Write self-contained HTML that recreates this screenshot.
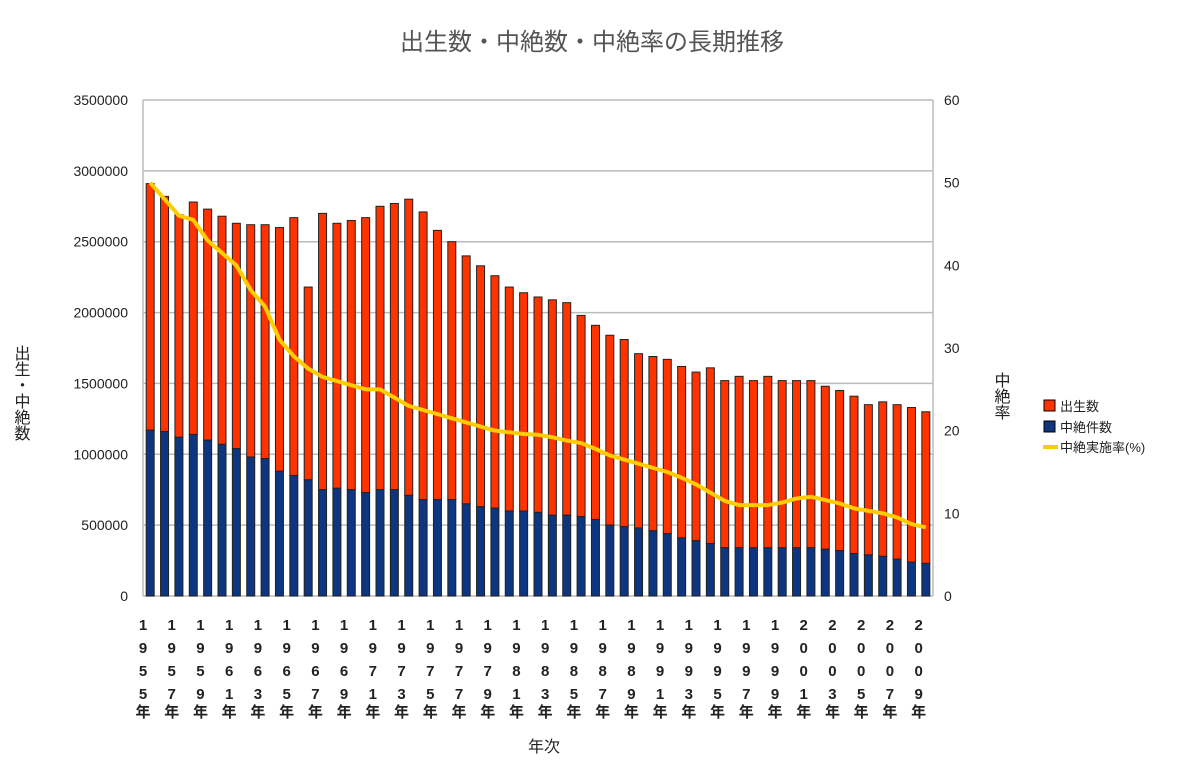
<!DOCTYPE html>
<html><head><meta charset="utf-8">
<style>
body{margin:0;background:#fff;width:1200px;height:768px;overflow:hidden;font-family:"Liberation Sans","Noto Sans CJK JP",sans-serif;}
svg text{font-family:"Liberation Sans","Noto Sans CJK JP",sans-serif;}
</style></head><body>
<svg id="chart" width="1200" height="768">
<text x="592" y="50" text-anchor="middle" font-size="24" fill="#555">出生数・中絶数・中絶率の長期推移</text>
<g id="grid"></g><g id="bars"></g><g id="line"></g><g id="axes"></g>
<text x="528" y="752" font-size="16" fill="#222">年次</text>
<text x="20" y="345" font-size="16" fill="#222" style="writing-mode:vertical-rl;text-orientation:upright">出生・中絶数</text>
<text x="1000" y="372" font-size="16" fill="#222" style="writing-mode:vertical-rl;text-orientation:upright">中絶率</text>
<g>
<rect x="1044" y="400" width="11" height="11" fill="#ff3300" stroke="#000"/>
<text x="1060" y="411" font-size="13" fill="#222">出生数</text>
<rect x="1044" y="421" width="11" height="11" fill="#0d3580" stroke="#000"/>
<text x="1060" y="432" font-size="13" fill="#222">中絶件数</text>
<line x1="1043" y1="447" x2="1058" y2="447" stroke="#ffcc00" stroke-width="4"/>
<text x="1060" y="452" font-size="13" fill="#222">中絶実施率(%)</text>
</g>
</svg>
<script>
const years=[];for(let y=1955;y<=2009;y++)years.push(y);
const totals=[2.91,2.82,2.69,2.78,2.73,2.68,2.63,2.62,2.62,2.60,2.67,2.18,2.70,2.63,2.65,2.67,2.75,2.77,2.80,2.71,2.58,2.50,2.40,2.33,2.26,2.18,2.14,2.11,2.09,2.07,1.98,1.91,1.84,1.81,1.71,1.69,1.67,1.62,1.58,1.61,1.52,1.55,1.52,1.55,1.52,1.52,1.52,1.48,1.45,1.41,1.35,1.37,1.35,1.33,1.30];
const abortions=[1.17,1.16,1.12,1.14,1.10,1.07,1.04,0.98,0.97,0.88,0.85,0.82,0.75,0.76,0.75,0.73,0.75,0.75,0.71,0.68,0.68,0.68,0.65,0.63,0.62,0.60,0.60,0.59,0.57,0.57,0.56,0.54,0.50,0.49,0.48,0.46,0.44,0.41,0.39,0.37,0.34,0.34,0.34,0.34,0.34,0.34,0.34,0.33,0.32,0.30,0.29,0.28,0.26,0.24,0.23];
const rates=[50,48,46,45.5,43,41.5,40,37,35,31,29,27.5,26.5,26,25.5,25,25,24,23,22.5,22,21.5,21,20.5,20,19.8,19.6,19.5,19.2,18.8,18.5,17.8,17,16.5,16,15.5,15,14.3,13.5,12.5,11.5,11,11,11,11.3,11.8,12,11.6,11.2,10.6,10.3,10,9.5,8.7,8.3];
const leftTicks=[0,500000,1000000,1500000,2000000,2500000,3000000,3500000];
const rightTicks=[0,10,20,30,40,50,60];
const X0=143,X1=933,Y0=596,Y1=100;
const slot=(X1-X0)/years.length;
const yL=v=>Y0-(v/3500000)*(Y0-Y1);
const yR=v=>Y0-(v/60)*(Y0-Y1);
const xC=i=>X0+(i+0.5)*slot;
const NS='http://www.w3.org/2000/svg';
function mk(tag,attrs,parent,txt){const e=document.createElementNS(NS,tag);for(const k in attrs)e.setAttribute(k,attrs[k]);if(txt!==undefined)e.textContent=txt;document.getElementById(parent).appendChild(e);return e;}
leftTicks.forEach(t=>{
 const g=mk('line',{x1:X0,x2:X1,y1:yL(t),y2:yL(t),stroke:'#bbb','stroke-width':1.5},'grid');
 
 
 const l=mk('text',{x:128,y:yL(t)+5,'text-anchor':'end','font-size':14,fill:'#222'},'axes',String(t));
 
 
});
rightTicks.forEach(t=>{
 const l=mk('text',{x:944,y:yR(t)+5,'font-size':14,fill:'#222'},'axes',String(t));
 
 
});
const ax1=mk('line',{x1:X0,x2:X0,y1:Y1,y2:Y0,stroke:'#bbb','stroke-width':1.5},'axes');


const ax2=mk('line',{x1:X1,x2:X1,y1:Y1,y2:Y0,stroke:'#bbb','stroke-width':1.5},'axes');


const bw=8;
years.forEach((yr,i)=>{
 const x=xC(i)-bw/2;
 const r=mk('rect',{x:x,y:yL(totals[i]*1e6),width:bw,height:yL(abortions[i]*1e6)-yL(totals[i]*1e6),fill:'#ff3300',stroke:'#222','stroke-width':1},'bars');
 
 
 const b=mk('rect',{x:x,y:yL(abortions[i]*1e6),width:bw,height:Y0-yL(abortions[i]*1e6),fill:'#0d3580',stroke:'#222','stroke-width':1},'bars');
 
 
 if(i%2===0){
  const s=String(yr)+'年';
  for(let k=0;k<5;k++){
   const t=mk('text',{x:X0+i*slot,y:630+k*23-(k===4?5:0),'text-anchor':'middle','font-size':15,'font-weight':'bold',fill:'#222'},'axes',s[k]);
   
   
  }
 }
});
const pl=mk('polyline',{points:rates.map((v,i)=>xC(i)+','+yR(v)).join(' '),fill:'none',stroke:'#ffcc00','stroke-width':4,'stroke-linejoin':'round'},'line');


</script>
</body></html>
